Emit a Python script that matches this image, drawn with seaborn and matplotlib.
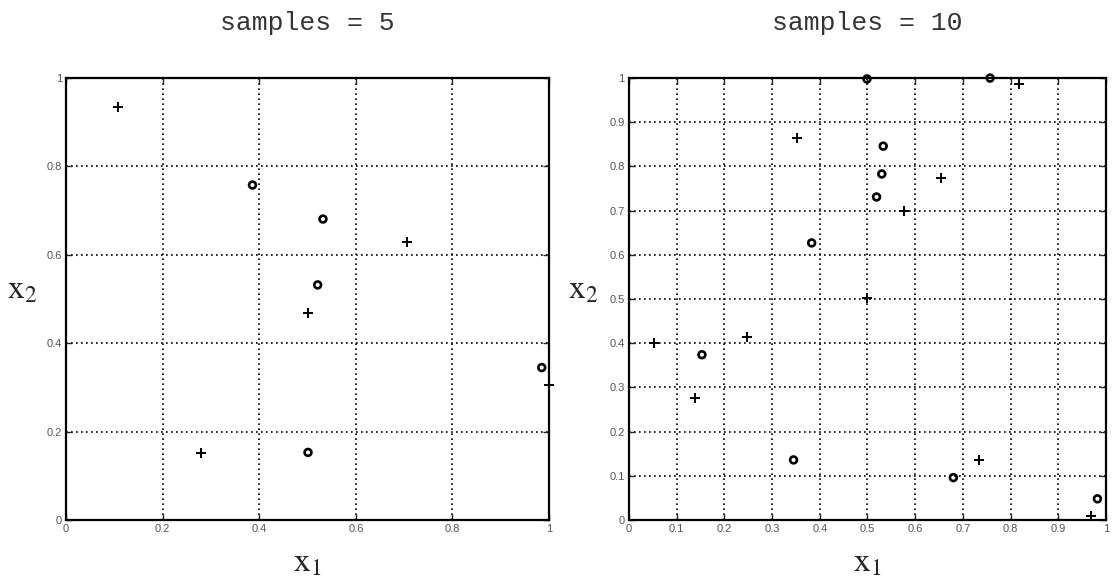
import numpy as np
import pandas as pd
import seaborn as sns
import matplotlib.pyplot as plt

# --- DATA ---
# samples = 5
circ5_x1 = [0.386, 0.532, 0.521, 0.985, 0.501]
circ5_x2 = [0.758, 0.681, 0.532, 0.345, 0.153]
plus5_x1 = [0.107, 0.706, 0.501, 1.000, 0.280]
plus5_x2 = [0.935, 0.630, 0.469, 0.305, 0.151]

# samples = 10
circ10_x1 = [0.499, 0.757, 0.533, 0.530, 0.519, 0.383, 0.153, 0.345, 0.680, 0.982]
circ10_x2 = [0.998, 1.000, 0.846, 0.783, 0.731, 0.627, 0.374, 0.136, 0.096, 0.048]
plus10_x1 = [0.817, 0.352, 0.654, 0.576, 0.499, 0.053, 0.248, 0.139, 0.733, 0.968]
plus10_x2 = [0.986, 0.864, 0.773, 0.699, 0.502, 0.400, 0.413, 0.277, 0.136, 0.009]

titles = ["samples = 5", "samples = 10"]
ticks5 = [0, 0.2, 0.4, 0.6, 0.8, 1]
ticks10 = [0, 0.1, 0.2, 0.3, 0.4, 0.5, 0.6, 0.7, 0.8, 0.9, 1]

# --- STYLE ---
sns.set_style("white")
plt.rcParams["font.family"] = ["Liberation Sans", "DejaVu Sans"]
plt.rcParams["mathtext.fontset"] = "stix"


def tick_fmt(v):
    return "0" if v == 0 else ("1" if v == 1 else f"{v:g}")


def draw_panel(ax, cx, cy, px, py, ticks):
    df_c = pd.DataFrame({"x1": cx, "x2": cy})
    df_p = pd.DataFrame({"x1": px, "x2": py})
    sns.scatterplot(data=df_c, x="x1", y="x2", ax=ax, marker="o", s=24,
                    facecolor="none", edgecolor="black", linewidth=1.9,
                    clip_on=False, zorder=5)
    sns.scatterplot(data=df_p, x="x1", y="x2", ax=ax, marker="+", s=55,
                    color="black", linewidth=1.4, clip_on=False, zorder=5)
    ax.set_xlim(0, 1)
    ax.set_ylim(0, 1)
    ax.set_xticks(ticks)
    ax.set_yticks(ticks)
    ax.set_xticklabels([tick_fmt(t) for t in ticks])
    ax.set_yticklabels([tick_fmt(t) for t in ticks])
    ax.grid(True, color="black", linestyle=(0, (1, 2)), linewidth=1.2)
    ax.set_axisbelow(True)
    ax.tick_params(direction="in", length=4, width=1, labelsize=8,
                   labelcolor="#555555", top=True, right=True,
                   bottom=True, left=True, pad=3)
    for sp in ax.spines.values():
        sp.set_color("black")
        sp.set_linewidth(1.6)
    ax.set_xlabel("")
    ax.set_ylabel("")


fig = plt.figure(figsize=(11.12, 5.8), dpi=100)
ax1 = fig.add_axes([0.0594, 0.1034, 0.4343, 0.762])
ax2 = fig.add_axes([0.5656, 0.1034, 0.4290, 0.762])

draw_panel(ax1, circ5_x1, circ5_x2, plus5_x1, plus5_x2, ticks5)
draw_panel(ax2, circ10_x1, circ10_x2, plus10_x1, plus10_x2, ticks10)

# titles in a courier-like font
fig.text(0.2765, 1 - 23 / 580, titles[0], family="Liberation Mono",
         fontsize=19, ha="center", va="center", color="#333333")
fig.text(0.780, 1 - 23 / 580, titles[1], family="Liberation Mono",
         fontsize=19, ha="center", va="center", color="#333333")

# axis labels
fig.text(0.2765, 1 - 563 / 580, r"$\mathrm{x}_{1}$", fontsize=24,
         ha="center", va="center")
fig.text(0.780, 1 - 563 / 580, r"$\mathrm{x}_{1}$", fontsize=24,
         ha="center", va="center")
fig.text(22 / 1112, 1 - 290 / 580, r"$\mathrm{x}_{2}$", fontsize=24,
         ha="center", va="center")
fig.text(583 / 1112, 1 - 290 / 580, r"$\mathrm{x}_{2}$", fontsize=24,
         ha="center", va="center")

plt.savefig("out.png", dpi=100)
